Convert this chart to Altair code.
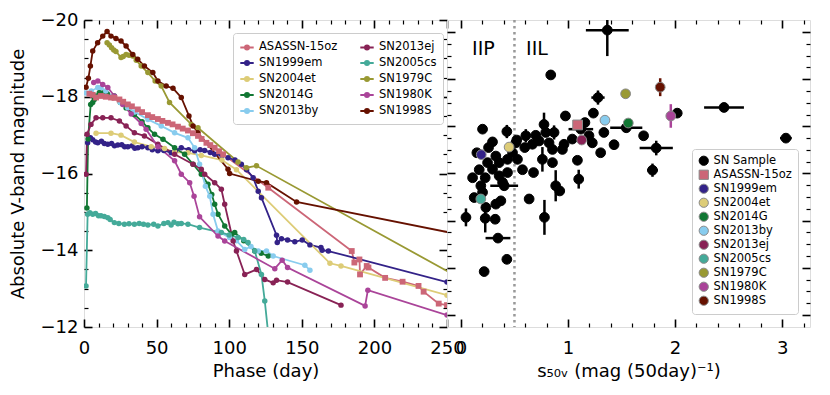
import altair as alt
import pandas as pd

# ---------------- data ----------------
names = ["ASASSN-15oz", "SN1999em", "SN2004et", "SN2014G", "SN2013by",
         "SN2013ej", "SN2005cs", "SN1979C", "SN1980K", "SN1998S"]
colors = ["#CC6677", "#332288", "#DDCC77", "#117733", "#88CCEE",
          "#882255", "#44AA99", "#999933", "#AA4499", "#661100"]
markers = ["square"] + ["circle"] * 9

asassn15oz_phase = [3.7, 6, 8.3, 11.7, 15, 18.6, 21, 24.4, 27, 30.2, 33, 37.1, 40, 44, 47, 50.9, 54, 57.8,
                    61, 64.7, 68, 71.6, 75, 78.5, 81, 84.3, 87, 90, 93, 95.8, 126.9, 184.4, 186.2, 189.7,
                    190.1, 194.7, 195.9, 207.4, 219.4, 230.4, 233.9, 244.3, 250]
asassn15oz_mag = [-18.08, -18.05, -17.98, -18.02, -18.0, -17.98, -17.97, -17.93, -17.87, -17.8, -17.75,
                  -17.67, -17.6, -17.52, -17.47, -17.42, -17.37, -17.32, -17.28, -17.22, -17.17, -17.12,
                  -17.05, -16.98, -16.9, -16.80, -16.74, -16.67, -16.58, -16.50, -15.63, -13.98, -13.68,
                  -13.76, -13.37, -13.59, -13.55, -13.28, -13.18, -13.07, -12.92, -12.61, -12.57]

sn1999em_phase = [2.5, 4.4, 6, 8, 9.5, 12, 14, 16.4, 19, 21, 23.3, 26, 28, 30.2, 33, 35, 37.1, 40, 44, 47,
                  50.9, 55, 60.1, 63, 67, 72, 76.2, 80, 83.1, 87, 90, 95, 99.2, 104, 108.4, 112, 116.5,
                  120, 122.2, 132.6, 133.1, 136, 140.2, 145.2, 150.3, 155.6, 163.2, 164, 168.3, 250]
sn1999em_mag = [-16.8, -16.93, -16.88, -16.82, -16.80, -16.84, -16.78, -16.76, -16.78, -16.72, -16.74,
                -16.75, -16.70, -16.70, -16.72, -16.66, -16.67, -16.70, -16.67, -16.62, -16.59, -16.60,
                -16.54, -16.6, -16.67, -16.62, -16.59, -16.62, -16.60, -16.55, -16.5, -16.47, -16.41,
                -16.35, -16.24, -16.1, -15.89, -15.54, -15.37, -14.39, -14.2, -14.3, -14.27, -14.22,
                -14.27, -14.14, -14.07, -14.0, -13.98, -13.17]

sn2004et_phase = [8.3, 18.6, 25.5, 34.7, 46.3, 55.5, 62.4, 71.6, 80.8, 95, 105, 169.4, 177, 250]
sn2004et_mag = [-17.05, -17.05, -17.0, -16.82, -16.7, -16.65, -16.56, -16.54, -16.47, -16.35, -16.1,
                -13.66, -13.59, -12.83]

sn2014g_phase = [2.0, 2.8, 4.6, 6, 7.1, 8.3, 10.6, 13, 16, 20.9, 25, 29, 34.7, 40, 44, 48.6, 54.4, 62.4,
                 69.3, 75.1, 80.8, 85.4, 88, 90, 92.3, 96.9, 101.5, 103.8, 110, 117.6, 122, 126.9]
sn2014g_mag = [-15.1, -16.9, -17.8, -17.85, -17.93, -18.02, -18.11, -18.1, -18.08, -18.02, -17.85,
               -17.71, -17.54, -17.35, -17.19, -17.02, -16.89, -16.67, -16.50, -16.24, -15.98, -15.72,
               -15.45, -15.2, -14.94, -14.63, -14.42, -14.46, -14.25, -13.98, -13.92, -13.85]

sn2013by_phase = [1.4, 5, 9.5, 11.7, 15, 20, 25, 30, 35, 44, 53.2, 62.4, 71.6, 76.2, 79.6, 83.6, 86.6,
                  88.9, 92.3, 100.3, 105, 110.7, 115, 120, 125.7, 130.3, 152.1, 155.6]
sn2013by_mag = [-18.1, -18.15, -18.24, -18.24, -18.15, -18.0, -17.85, -17.72, -17.6, -17.41, -17.24,
                -17.06, -16.93, -16.67, -16.24, -15.67, -15.41, -14.94, -14.5, -14.33, -14.25, -14.02,
                -14.1, -13.98, -13.98, -13.85, -13.61, -13.48]

sn2013ej_phase = [1.4, 2.1, 4.8, 8.3, 12.9, 18.6, 24.4, 29, 34.7, 41.6, 50.9, 62.4, 75.1, 80.8, 83.1, 90,
                  94.6, 96.9, 102.7, 105, 110.7, 118.8, 124.5, 130.3, 132.6, 140.2, 177]
sn2013ej_mag = [-15.98, -17.02, -17.28, -17.45, -17.45, -17.45, -17.37, -17.24, -17.06, -16.98, -16.76,
                -16.50, -16.24, -16.11, -15.98, -15.76, -15.59, -15.2, -14.24, -13.98, -13.37, -13.50,
                -13.24, -13.15, -13.22, -13.17, -12.57]

sn2005cs_phase = [1.4, 2.5, 4, 6, 8, 10, 11.7, 14, 16.4, 18, 20.9, 24, 27.8, 31, 34.7, 38, 41, 44, 48,
                  50.9, 55, 57.8, 60, 62, 64.7, 67, 71.6, 79.6, 94.6, 100, 106.1, 110, 113, 117.6,
                  122.2, 124.5, 127.5]
sn2005cs_mag = [-13.07, -14.94, -14.98, -14.94, -14.96, -14.9, -14.9, -14.88, -14.85, -14.8, -14.72,
                -14.7, -14.68, -14.69, -14.68, -14.7, -14.68, -14.66, -14.68, -14.63, -14.7, -14.72,
                -14.66, -14.73, -14.69, -14.7, -14.68, -14.59, -14.46, -14.4, -14.33, -14.28, -14.2,
                -13.98, -13.37, -12.68, -11.6]

sn1979c_phase = [15.9, 17.5, 19, 20.5, 22, 25.5, 27, 29, 31, 33.6, 36, 39.4, 44, 49, 53.2, 58.9, 73.9,
                 78.5, 106.1, 111.9, 118.8, 260]
sn1979c_mag = [-19.41, -19.35, -19.28, -19.22, -19.18, -19.02, -19.05, -19.1, -19.08, -19.06, -18.95,
               -18.8, -18.63, -18.41, -18.28, -17.85, -17.28, -17.19, -16.30, -16.15, -16.2, -13.25]

sn1980k_phase = [6.7, 9.5, 12.9, 16.4, 20.9, 26.7, 32.5, 39.4, 42.8, 50.9, 62.4, 67, 72.8, 75.8, 79.6,
                 92.3, 96.9, 131.4, 136.5, 140.2, 193.6, 195.5, 250]
sn1980k_mag = [-18.37, -18.41, -18.32, -18.24, -18.02, -17.8, -17.55, -17.3, -17.15, -16.7, -16.33,
               -15.98, -15.76, -15.41, -14.87, -14.37, -14.24, -13.52, -13.74, -13.55, -12.55, -12.96,
               -12.31]

sn1998s_phase = [1.4, 3, 4.4, 6, 9.4, 12.9, 15.9, 18.6, 22, 25.5, 29, 33.6, 37, 41.6, 47.4, 50.9, 56.6,
                 61.3, 67, 72.3, 75.1, 78.5, 99.2, 100.3, 120, 125.7, 146.4, 260]
sn1998s_mag = [-18.25, -18.48, -18.8, -19.19, -19.41, -19.58, -19.70, -19.58, -19.52, -19.45, -19.32,
               -19.1, -18.98, -18.8, -18.63, -18.41, -18.28, -18.22, -17.98, -17.5, -17.24, -17.06,
               -16.11, -16.0, -15.8, -15.76, -15.26, -14.40]

curves = {
    "ASASSN-15oz": (asassn15oz_phase, asassn15oz_mag),
    "SN1999em": (sn1999em_phase, sn1999em_mag),
    "SN2004et": (sn2004et_phase, sn2004et_mag),
    "SN2014G": (sn2014g_phase, sn2014g_mag),
    "SN2013by": (sn2013by_phase, sn2013by_mag),
    "SN2013ej": (sn2013ej_phase, sn2013ej_mag),
    "SN2005cs": (sn2005cs_phase, sn2005cs_mag),
    "SN1979C": (sn1979c_phase, sn1979c_mag),
    "SN1980K": (sn1980k_phase, sn1980k_mag),
    "SN1998S": (sn1998s_phase, sn1998s_mag),
}

# right panel: SN sample (s50V, magnitude, x error, y error)
sample_s50 = [1.367, 0.839, 1.28, 1.237, 0.976, 1.12, 1.544, 2.02, 1.706, 1.824, 1.789, 2.457, 3.035,
              0.047, 0.202, 0.429, 0.295, 0.149, 0.258, 0.326, 0.357, 0.435, 0.528, 0.171, 0.109, 0.227,
              0.357, 0.435, 0.186, 0.404, 0.124, 0.233, 0.326, 0.373, 0.227, 0.346, 0.32, 0.429, 0.217,
              0.575, 0.678, 0.596, 0.606, 0.522, 0.699, 0.776, 0.792, 0.87, 0.761, 0.855, 0.948, 0.885,
              0.923, 0.637, 0.78, 1.10, 1.088, 1.196, 1.227, 1.305, 1.43, 1.335, 1.158, 1.04,
              0.249, 0.295, 0.389, 0.202, 0.482, 0.513, 0.668, 0.73, 0.823, 0.963, 0.855]
sample_mag = [-19.04, -18.09, -17.61, -17.28, -17.22, -16.94, -16.97, -17.28, -16.80, -16.54, -16.07,
              -17.40, -16.75, -15.07, -16.94, -16.89, -16.67, -16.44, -16.55, -16.37, -16.23, -16.30,
              -16.30, -16.08, -15.91, -15.91, -15.95, -16.02, -15.74, -15.74, -15.49, -15.28, -15.35,
              -15.42, -15.05, -14.63, -15.03, -14.18, -13.92, -16.08, -16.02, -16.55, -16.80, -16.71,
              -16.81, -17.04, -16.87, -16.87, -16.30, -16.51, -16.51, -15.74, -15.63, -15.46, -15.07,
              -15.88, -16.28, -16.80, -16.65, -16.44, -16.61, -16.87, -17.08, -16.73,
              -16.23, -16.09, -15.81, -15.60, -16.44, -16.65, -16.62, -16.69, -16.65, -16.62, -16.23]
sample_xerr = [0.2, 0, 0.062, 0, 0, 0.115, 0.15, 0, 0, 0.155, 0.05, 0.186, 0.055,
               0, 0, 0, 0, 0, 0, 0, 0, 0, 0, 0, 0, 0, 0, 0, 0, 0.13, 0, 0, 0, 0, 0, 0.116, 0, 0, 0,
               0, 0, 0, 0, 0, 0, 0, 0, 0, 0, 0, 0, 0, 0, 0, 0, 0, 0, 0, 0, 0, 0, 0, 0, 0,
               0, 0, 0, 0, 0, 0, 0, 0, 0, 0, 0]
sample_yerr = [0.55, 0, 0.15, 0, 0, 0, 0, 0, 0, 0.155, 0.14, 0.085, 0,
               0.19, 0, 0.14, 0, 0, 0, 0, 0, 0, 0, 0, 0, 0, 0, 0, 0, 0, 0, 0, 0, 0, 0.3, 0, 0, 0, 0,
               0, 0, 0, 0.14, 0, 0, 0.25, 0, 0.15, 0.26, 0, 0, 0.33, 0, 0, 0.37, 0.2, 0, 0, 0, 0, 0, 0, 0, 0,
               0, 0, 0, 0, 0, 0, 0, 0, 0, 0, 0]

named_s50 = [1.09, 0.19, 0.45, 1.563, 1.345, 1.128, 0.186, 1.538, 1.96, 1.861]
named_mag = [-17.03, -16.40, -16.56, -17.07, -17.13, -16.71, -15.46, -17.69, -17.22, -17.83]
named_yerr = [0, 0, 0, 0, 0, 0, 0, 0, 0.25, 0.19]

class_labels = ["IIP", "IIL"]
class_label_s50 = [0.21, 0.71]
class_label_mag = [-18.64, -18.64]
iip_iil_boundary = [0.5]

# ---------------- tables ----------------
rows = []
for n in names:
    ph, mg = curves[n]
    for i, (p, m) in enumerate(zip(ph, mg)):
        rows.append({"name": n, "phase": p, "mag": m, "i": i})
lc = pd.DataFrame(rows)
lc_sq = lc[lc["name"] == "ASASSN-15oz"]
lc_ci = lc[lc["name"] != "ASASSN-15oz"]

sample_label = "SN Sample"
pts = pd.DataFrame({
    "label": [sample_label] * len(sample_s50) + names,
    "s50": sample_s50 + named_s50,
    "mag": sample_mag + named_mag,
    "xerr": sample_xerr + [0] * len(names),
    "yerr": sample_yerr + named_yerr,
    "ecolor": ["black"] * len(sample_s50) + colors,
})
pts["xlo"] = pts["s50"] - pts["xerr"]
pts["xhi"] = pts["s50"] + pts["xerr"]
pts["ylo"] = pts["mag"] - pts["yerr"]
pts["yhi"] = pts["mag"] + pts["yerr"]
xe = pts[pts["xerr"] > 0]
ye = pts[pts["yerr"] > 0]
labels_df = pd.DataFrame({"s50": class_label_s50, "mag": class_label_mag, "txt": class_labels})
bound_df = pd.DataFrame({"s50": iip_iil_boundary})

FONT = "DejaVu Sans"


def axis(orient, values, size, width, labels=False, title=None, lpad=4, tpad=4):
    kw = dict(orient=orient, values=values, tickSize=size, offset=-size, tickWidth=width,
              tickColor="black", domain=False, grid=False, labels=labels, labelFlush=False)
    if labels:
        kw.update(labelFontSize=18, labelColor="black", labelPadding=lpad, labelFont=FONT)
    if title is not None:
        kw.update(title=title, titleFontSize=18, titleFontWeight="normal", titlePadding=tpad,
                  titleColor="black", titleFont=FONT)
    else:
        kw.update(title=None)
    return alt.Axis(**kw)


def frange(a, b, step, skip):
    out = []
    k = 0
    while True:
        v = round(a + k * step, 6)
        if v > b + 1e-9:
            break
        if all(abs(v - s) > 1e-6 for s in skip):
            out.append(v)
        k += 1
    return out


# ---------------- left panel ----------------
lx_major = [0, 50, 100, 150, 200, 250]
lx_minor = frange(0, 250, 10, lx_major)
ly_major = [-20, -18, -16, -14, -12]
ly_minor = frange(-20, -12, 0.5, ly_major)

xs_l = alt.Scale(domain=[0, 250], nice=False, zero=False)
ys_l = alt.Scale(domain=[-20, -12], reverse=True, nice=False, zero=False)
col_l = alt.Scale(domain=names, range=colors)

legend_path = ("M-1,0H1M-0.3,0A0.3,0.3,0,1,1,0.3,0A0.3,0.3,0,1,1,-0.3,0"
               "M-0.12,0A0.12,0.12,0,1,1,0.12,0A0.12,0.12,0,1,1,-0.12,0")

lines = alt.Chart(lc).mark_line(strokeWidth=1.8, clip=True).encode(
    x=alt.X("phase:Q", scale=xs_l,
            axis=axis("bottom", lx_major, 8, 1.6, labels=True, title="Phase (day)", lpad=12, tpad=5)),
    y=alt.Y("mag:Q", scale=ys_l,
            axis=axis("left", ly_major, 8, 1.6, labels=True, title="Absolute V-band magnitude",
                      lpad=6, tpad=13)),
    color=alt.Color("name:N", scale=col_l,
                    legend=alt.Legend(title=None, orient="none", legendX=149, legendY=13, columns=2,
                                      columnPadding=18, rowPadding=1, symbolType=legend_path,
                                      symbolSize=180, symbolStrokeWidth=2, labelFontSize=11.5,
                                      labelFont=FONT, labelColor="black", labelOffset=4, padding=6,
                                      strokeColor="#cccccc", fillColor="white", cornerRadius=3)),
    order="i:Q",
)
lcircles = alt.Chart(lc_ci).mark_circle(size=30, opacity=1, clip=True).encode(
    x=alt.X("phase:Q", scale=xs_l, axis=axis("bottom", lx_minor, 4, 1.2)),
    y=alt.Y("mag:Q", scale=ys_l, axis=axis("left", ly_minor, 4, 1.2)),
    color=alt.Color("name:N", scale=col_l, legend=None),
)
lsquares = alt.Chart(lc_sq).mark_square(size=34, opacity=1, clip=True).encode(
    x=alt.X("phase:Q", scale=xs_l, axis=None),
    y=alt.Y("mag:Q", scale=ys_l, axis=None),
    color=alt.Color("name:N", scale=col_l, legend=None),
)
linv1 = alt.Chart(lc).mark_point(opacity=0).encode(
    x=alt.X("phase:Q", scale=xs_l, axis=axis("top", lx_major, 8, 1.6)),
    y=alt.Y("mag:Q", scale=ys_l, axis=axis("right", ly_major, 8, 1.6)),
)
linv2 = alt.Chart(lc).mark_point(opacity=0).encode(
    x=alt.X("phase:Q", scale=xs_l, axis=axis("top", lx_minor, 4, 1.2)),
    y=alt.Y("mag:Q", scale=ys_l, axis=axis("right", ly_minor, 4, 1.2)),
)
left = alt.layer(lines, lcircles, lsquares, linv1, linv2).resolve_axis(
    x="independent", y="independent").properties(width=363, height=307)

# ---------------- right panel ----------------
rx_major = [0, 1, 2, 3]
rx_minor = frange(0, 3.2, 0.2, rx_major)
ry_major = [-19, -18, -17, -16, -15, -14, -13]
ry_minor = frange(-19, -13, 0.25, ry_major)

xs_r = alt.Scale(domain=[-0.13, 3.26], nice=False, zero=False)
ys_r = alt.Scale(domain=[-19.255, -12.745], reverse=True, nice=False, zero=False)
dom_r = [sample_label] + names
col_r = alt.Scale(domain=dom_r, range=["black"] + colors)
shp_r = alt.Scale(domain=dom_r, range=["circle"] + markers)
stk_r = alt.Scale(domain=dom_r, range=["black"] + ["#888888"] * len(names))
leg_r = alt.Legend(title=None, orient="none", legendX=245, legendY=129, symbolSize=85,
                   rowPadding=0, labelFontSize=11.5, labelFont=FONT, labelColor="black",
                   labelOffset=4, padding=6, strokeColor="#cccccc", fillColor="white",
                   cornerRadius=3, symbolStrokeWidth=1)

boundary = alt.Chart(bound_df).mark_rule(color="#999999", strokeWidth=2.5, strokeDash=[2.5, 3.5]).encode(
    x=alt.X("s50:Q", scale=xs_r, axis=None),
)
xbars = alt.Chart(xe).mark_rule(color="black", strokeWidth=2.5, clip=True).encode(
    x=alt.X("xlo:Q", scale=xs_r,
            axis=axis("bottom", rx_major, 8, 1.6, labels=True,
                      title="s\u2085\u2080\u1d65 (mag (50day)\u207b\u00b9)", lpad=12, tpad=5)),
    x2="xhi:Q",
    y=alt.Y("mag:Q", scale=ys_r, axis=axis("left", ry_major, 8, 1.6)),
)
ybars = alt.Chart(ye).mark_rule(strokeWidth=2.5, clip=True).encode(
    x=alt.X("s50:Q", scale=xs_r, axis=axis("bottom", rx_minor, 4, 1.2)),
    y=alt.Y("ylo:Q", scale=ys_r, axis=axis("left", ry_minor, 4, 1.2)),
    y2="yhi:Q",
    color=alt.Color("ecolor:N", scale=None),
)
rpoints = alt.Chart(pts).mark_point(filled=True, size=95, opacity=1, strokeWidth=1, clip=True).encode(
    x=alt.X("s50:Q", scale=xs_r, axis=axis("top", rx_major, 8, 1.6)),
    y=alt.Y("mag:Q", scale=ys_r, axis=axis("right", ry_major, 8, 1.6)),
    color=alt.Color("label:N", scale=col_r, legend=leg_r),
    shape=alt.Shape("label:N", scale=shp_r, legend=leg_r),
    stroke=alt.Stroke("label:N", scale=stk_r, legend=leg_r),
)
rtext = alt.Chart(labels_df).mark_text(fontSize=19, font=FONT, color="black").encode(
    x=alt.X("s50:Q", scale=xs_r, axis=axis("top", rx_minor, 4, 1.2)),
    y=alt.Y("mag:Q", scale=ys_r, axis=axis("right", ry_minor, 4, 1.2)),
    text="txt:N",
)
right = alt.layer(boundary, xbars, ybars, rpoints, rtext).resolve_axis(
    x="independent", y="independent").properties(width=363, height=307)

chart = alt.hconcat(left, right, spacing=0, bounds="flush").resolve_scale(
    color="independent", shape="independent", stroke="independent"
).resolve_legend(
    color="independent", shape="independent", stroke="independent"
).properties(
    padding={"left": 0, "top": 2, "right": 5, "bottom": 5}
).configure_view(
    stroke="black", strokeWidth=2
).configure(font=FONT)

chart.save("out.html", embed_options={"renderer": "svg", "actions": False})
